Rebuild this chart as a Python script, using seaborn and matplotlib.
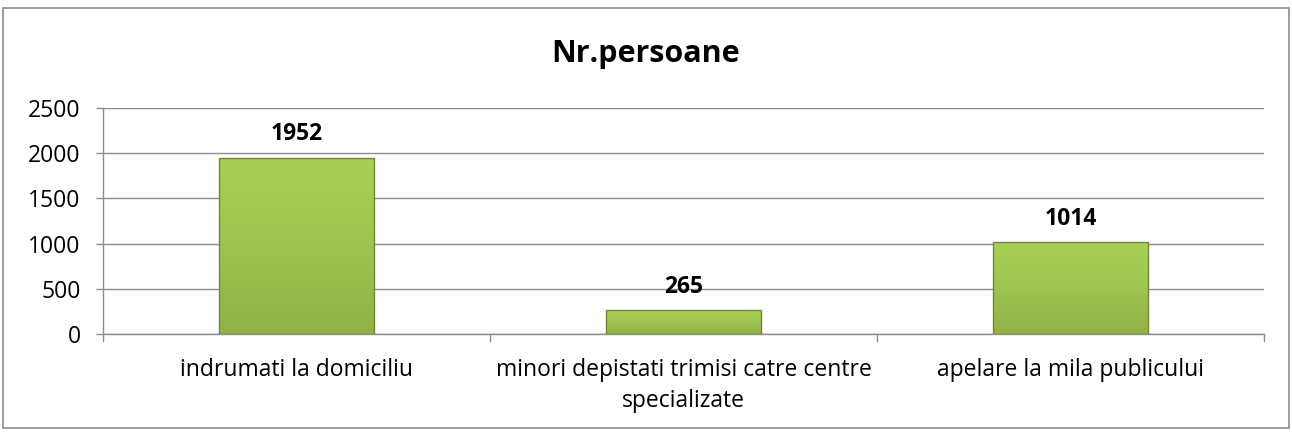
import matplotlib.pyplot as plt
import numpy as np
import pandas as pd
import seaborn as sns
from matplotlib.patches import Rectangle
from matplotlib.colors import LinearSegmentedColormap

# Data
categories = ['indrumati la domiciliu',
              'minori depistati trimisi catre centre\nspecializate',
              'apelare la mila publicului']
values = [1952, 265, 1014]
yticks = [0, 500, 1000, 1500, 2000, 2500]
title = 'Nr.persoane'

df = pd.DataFrame({'cat': categories, 'value': values})

sns.set_style('white')
plt.rcParams['font.family'] = ['Open Sans', 'DejaVu Sans']
plt.rcParams['text.color'] = 'black'
plt.rcParams['xtick.color'] = 'black'
plt.rcParams['ytick.color'] = 'black'

W, H = 1292, 432
fig = plt.figure(figsize=(W / 100, H / 100), dpi=100)
ax = fig.add_axes([103 / W, 1 - 334 / H, (1264 - 103) / W, (334 - 108) / H])

sns.barplot(data=df, x='cat', y='value', ax=ax, color='#9bbb59', width=0.4,
            edgecolor='#6f8a30', linewidth=1.0, saturation=1)

ax.set_ylim(0, 2500)
ax.set_xlim(-0.5, 2.5)
ax.set_yticks(yticks)
ax.set_yticklabels([str(t) for t in yticks], fontsize=16.5)
ax.yaxis.grid(True, color='#8c8c8c', linewidth=1)
ax.set_axisbelow(True)
ax.set_xlabel('')
ax.set_ylabel('')
ax.set_xticks([0, 1, 2])
ax.set_xticklabels(categories, fontsize=16.5, linespacing=1.4)
ax.tick_params(axis='x', length=0, pad=17)
ax.tick_params(axis='y', left=True, length=5, color='#8c8c8c', width=1, pad=11)
for side in ['top', 'right']:
    ax.spines[side].set_visible(False)
for side in ['left', 'bottom']:
    ax.spines[side].set_color('#8c8c8c')
    ax.spines[side].set_linewidth(1)

# category boundary ticks on the x-axis
for b in [-0.5, 0.5, 1.5, 2.5]:
    ax.plot([b, b], [0, -0.03], transform=ax.get_xaxis_transform(),
            color='#8c8c8c', linewidth=1, clip_on=False)

# vertical gradient fill on the bars
cmap = LinearSegmentedColormap.from_list('g', ['#92b247', '#9ec34f', '#a9cf56'])
grad = np.linspace(0, 1, 256).reshape(-1, 1)
for p in list(ax.patches):
    x, w, h = p.get_x(), p.get_width(), p.get_height()
    im = ax.imshow(grad, cmap=cmap, aspect='auto', origin='lower',
                   extent=[x, x + w, 0, h], zorder=p.get_zorder() + 0.05)
    im.set_clip_path(p)
    p.set_facecolor('none')
    p.set_zorder(p.get_zorder() + 0.1)
ax.set_xlim(-0.5, 2.5)
ax.set_ylim(0, 2500)

for i, v in enumerate(values):
    ax.text(i, v + 260, str(v), ha='center', va='center', fontsize=16.5, fontweight='bold')

fig.text(0.5, 1 - 54 / H, title, ha='center', va='center', fontsize=22, fontweight='bold')

# outer frame
fig.patches.append(Rectangle((3 / W, 4 / H), 1286 / W, 420 / H, transform=fig.transFigure,
                             fill=False, edgecolor='#8c8c8c', linewidth=1.2))

fig.savefig('out.png', dpi=100)
